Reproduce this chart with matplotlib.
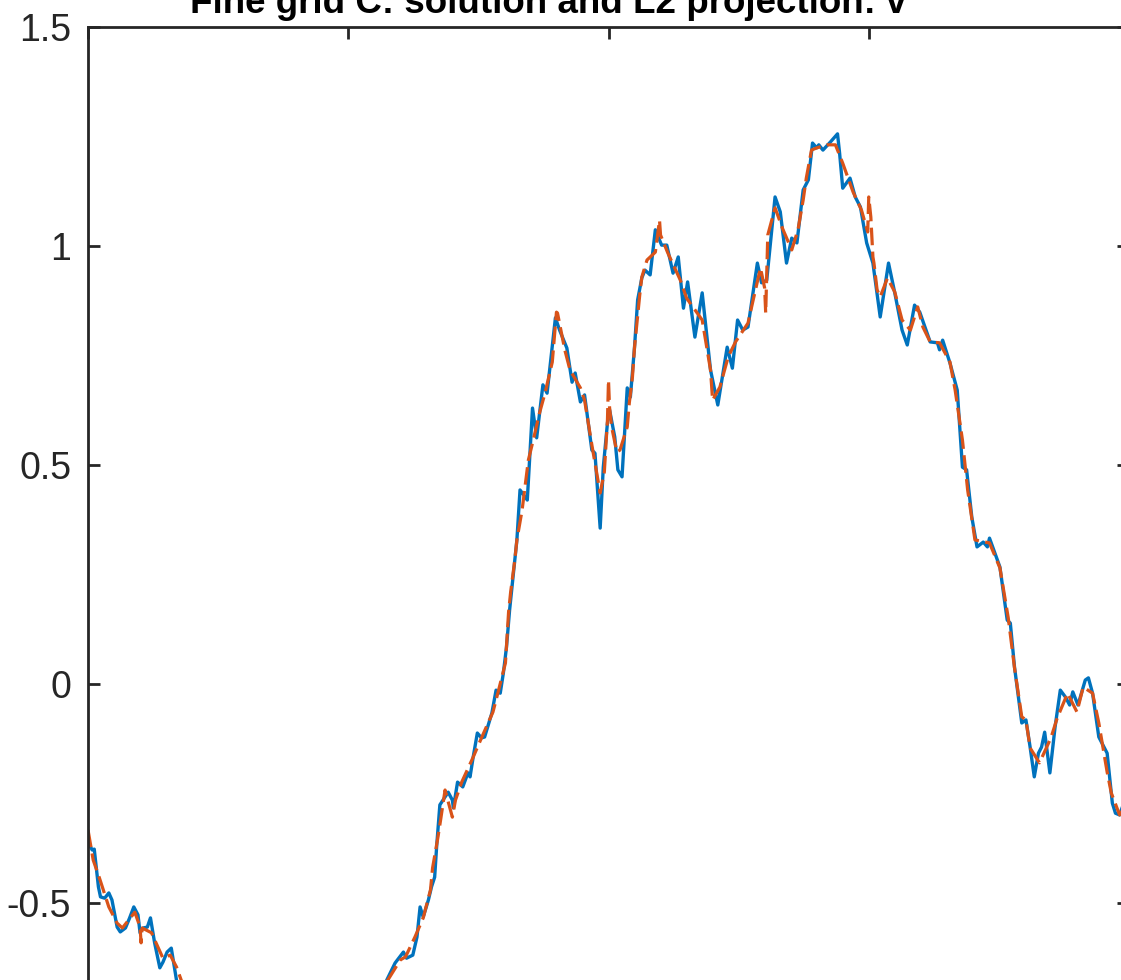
import numpy as np
import matplotlib.pyplot as plt

# solution v on the fine grid (blue)
x_sol = [0.0, 0.004, 0.006, 0.010, 0.012, 0.016, 0.020, 0.023, 0.028, 0.031,
         0.036, 0.040, 0.044, 0.048, 0.050, 0.053, 0.057, 0.060, 0.064, 0.069,
         0.072, 0.076, 0.080, 0.083, 0.085, 0.098, 0.127, 0.165, 0.204, 0.242,
         0.271, 0.285, 0.287, 0.295, 0.303, 0.306, 0.312, 0.316, 0.319, 0.322,
         0.327, 0.330, 0.333, 0.335, 0.338, 0.341, 0.346, 0.350, 0.351, 0.355,
         0.360, 0.365, 0.367, 0.370, 0.374, 0.378, 0.381, 0.388, 0.392, 0.396,
         0.399, 0.402, 0.405, 0.408, 0.412, 0.415, 0.422, 0.427, 0.431, 0.437,
         0.441, 0.449, 0.453, 0.460, 0.465, 0.468, 0.473, 0.477, 0.484, 0.487,
         0.492, 0.495, 0.499, 0.501, 0.506, 0.509, 0.513, 0.518, 0.521, 0.525,
         0.528, 0.532, 0.535, 0.540, 0.545, 0.551, 0.556, 0.562, 0.567, 0.572,
         0.576, 0.583, 0.590, 0.598, 0.605, 0.614, 0.619, 0.624, 0.629, 0.634,
         0.643, 0.647, 0.652, 0.660, 0.665, 0.671, 0.676, 0.681, 0.687, 0.692,
         0.696, 0.700, 0.702, 0.706, 0.713, 0.720, 0.722, 0.725, 0.732, 0.737,
         0.742, 0.748, 0.754, 0.761, 0.769, 0.775, 0.782, 0.787, 0.794, 0.799,
         0.809, 0.816, 0.818, 0.821, 0.828, 0.835, 0.840, 0.844, 0.849, 0.854,
         0.860, 0.864, 0.866, 0.876, 0.883, 0.886, 0.890, 0.897, 0.901, 0.905,
         0.909, 0.913, 0.916, 0.919, 0.924, 0.929, 0.934, 0.939, 0.943, 0.946,
         0.951, 0.958, 0.961, 0.965, 0.971, 0.979, 0.984, 0.987, 0.991, 0.996,
         1.0]
v_sol = [-0.361, -0.379, -0.377, -0.463, -0.486, -0.489, -0.477, -0.493, -0.555, -0.566,
         -0.557, -0.534, -0.509, -0.527, -0.568, -0.557, -0.555, -0.534, -0.591, -0.648,
         -0.635, -0.612, -0.603, -0.646, -0.676, -0.744, -0.836, -0.881, -0.858, -0.813,
         -0.744, -0.699, -0.676, -0.637, -0.612, -0.626, -0.619, -0.578, -0.509, -0.532,
         -0.493, -0.463, -0.441, -0.368, -0.276, -0.265, -0.247, -0.265, -0.283, -0.224,
         -0.235, -0.203, -0.212, -0.167, -0.112, -0.123, -0.121, -0.066, -0.014, -0.021,
         0.025, 0.084, 0.169, 0.237, 0.329, 0.443, 0.420, 0.630, 0.562, 0.683,
         0.664, 0.836, 0.808, 0.767, 0.689, 0.710, 0.644, 0.660, 0.534, 0.527,
         0.356, 0.495, 0.596, 0.626, 0.564, 0.489, 0.473, 0.676, 0.655, 0.769,
         0.877, 0.927, 0.945, 0.934, 1.037, 1.002, 1.002, 0.938, 0.975, 0.858,
         0.918, 0.792, 0.893, 0.717, 0.637, 0.769, 0.721, 0.831, 0.808, 0.815,
         0.961, 0.916, 0.922, 1.112, 1.078, 0.961, 1.018, 1.007, 1.128, 1.151,
         1.235, 1.224, 1.231, 1.219, 1.237, 1.256, 1.212, 1.132, 1.155, 1.112,
         1.089, 1.007, 0.961, 0.838, 0.961, 0.893, 0.808, 0.774, 0.865, 0.849,
         0.781, 0.779, 0.763, 0.785, 0.733, 0.671, 0.495, 0.489, 0.381, 0.313,
         0.324, 0.313, 0.333, 0.267, 0.146, 0.139, 0.039, -0.089, -0.082, -0.144,
         -0.212, -0.158, -0.144, -0.110, -0.203, -0.098, -0.014, -0.030, -0.048, -0.018,
         -0.048, 0.009, 0.014, -0.021, -0.121, -0.158, -0.272, -0.295, -0.299, -0.265,
         -0.253]

# L2 projection (orange, dashed)
x_proj = [0.0, 0.005, 0.011, 0.020, 0.028, 0.033, 0.045, 0.050, 0.051, 0.052,
          0.061, 0.072, 0.079, 0.085, 0.093, 0.127, 0.165, 0.204, 0.242, 0.271,
          0.288, 0.300, 0.305, 0.314, 0.322, 0.329, 0.331, 0.336, 0.339, 0.343,
          0.350, 0.353, 0.359, 0.370, 0.378, 0.389, 0.394, 0.401, 0.404, 0.406,
          0.410, 0.412, 0.417, 0.423, 0.427, 0.434, 0.439, 0.446, 0.450, 0.451,
          0.458, 0.463, 0.473, 0.477, 0.484, 0.492, 0.496, 0.499, 0.500, 0.501,
          0.503, 0.508, 0.511, 0.518, 0.520, 0.523, 0.525, 0.530, 0.532, 0.537,
          0.545, 0.549, 0.550, 0.557, 0.569, 0.575, 0.590, 0.598, 0.600, 0.607,
          0.615, 0.622, 0.634, 0.639, 0.646, 0.650, 0.651, 0.653, 0.660, 0.667,
          0.676, 0.682, 0.687, 0.690, 0.695, 0.700, 0.710, 0.718, 0.725, 0.735,
          0.743, 0.749, 0.750, 0.752, 0.753, 0.754, 0.755, 0.758, 0.761, 0.768,
          0.775, 0.782, 0.790, 0.797, 0.802, 0.809, 0.818, 0.828, 0.833, 0.840,
          0.845, 0.852, 0.866, 0.876, 0.884, 0.890, 0.897, 0.901, 0.905, 0.914,
          0.925, 0.931, 0.941, 0.950, 0.956, 0.965, 0.971, 0.979, 0.983, 0.991,
          1.0]
v_proj = [-0.333, -0.402, -0.443, -0.509, -0.546, -0.557, -0.521, -0.555, -0.591, -0.557,
          -0.568, -0.626, -0.619, -0.646, -0.699, -0.824, -0.870, -0.847, -0.801, -0.733,
          -0.676, -0.630, -0.623, -0.578, -0.534, -0.470, -0.420, -0.352, -0.306, -0.242,
          -0.304, -0.265, -0.224, -0.167, -0.123, -0.064, -0.018, 0.048, 0.164, 0.210,
          0.283, 0.329, 0.397, 0.511, 0.550, 0.621, 0.664, 0.735, 0.849, 0.847,
          0.763, 0.717, 0.676, 0.648, 0.546, 0.436, 0.484, 0.603, 0.694, 0.632,
          0.587, 0.530, 0.534, 0.587, 0.642, 0.701, 0.769, 0.888, 0.929, 0.968,
          0.986, 1.059, 1.025, 0.984, 0.922, 0.881, 0.831, 0.717, 0.648, 0.678,
          0.747, 0.781, 0.824, 0.877, 0.950, 0.904, 0.847, 1.025, 1.087, 1.041,
          0.991, 1.037, 1.105, 1.155, 1.219, 1.224, 1.231, 1.231, 1.189, 1.123,
          1.082, 1.032, 1.112, 1.066, 1.018, 0.975, 0.961, 0.900, 0.884, 0.927,
          0.895, 0.831, 0.808, 0.861, 0.815, 0.781, 0.779, 0.735, 0.671, 0.557,
          0.443, 0.329, 0.322, 0.265, 0.151, 0.037, -0.075, -0.082, -0.146, -0.180,
          -0.123, -0.078, -0.021, -0.064, -0.007, -0.021, -0.089, -0.201, -0.249, -0.299,
          -0.265]

yticks = [-0.5, 0, 0.5, 1, 1.5]
ytick_labels = ['-0.5', '0', '0.5', '1', '1.5']
xticks = [0, 0.25, 0.5, 0.75, 1]

plt.rcParams['font.family'] = ['Liberation Sans', 'DejaVu Sans']

fig = plt.figure(figsize=(11.21, 9.8), dpi=100)
# the axes runs past the right and bottom edges of the picture
ax = fig.add_axes([88 / 1121, -142 / 980, 1041 / 1121, 1095 / 980])

ax.plot(x_sol, v_sol, color='#0072BD', lw=2.4, solid_joinstyle='round')
ax.plot(x_proj, v_proj, color='#D95319', lw=2.3, linestyle=(0, (5.5, 2.0)))

ax.set_xlim(0, 1)
ax.set_ylim(-1, 1.5)
ax.set_xticks(xticks)
ax.set_yticks(yticks)
ax.set_yticklabels(ytick_labels)
ax.tick_params(direction='in', length=8.6, width=2, top=True, right=True,
               labelsize=27, colors='#262626', pad=12)
# x tick labels sit below the visible part of the picture
ax.tick_params(axis='x', labelbottom=False)
for s in ax.spines.values():
    s.set_linewidth(2)
    s.set_color('#262626')

fig.text(548 / 1121, 1 - 13 / 980, 'Fine grid C: solution and L2 projection: v',
         ha='center', va='baseline', fontsize=26.5, fontweight='bold')

fig.savefig('out.png', dpi=100)
